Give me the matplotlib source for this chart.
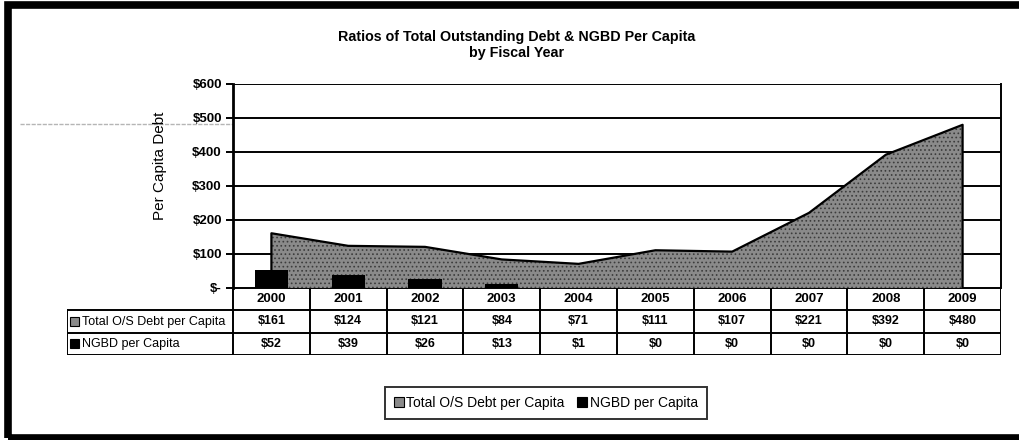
import matplotlib
matplotlib.use("Agg")
import matplotlib.pyplot as plt
from matplotlib.patches import Patch, Rectangle
from matplotlib.lines import Line2D

plt.rcParams['font.family'] = ['Liberation Sans', 'DejaVu Sans']
plt.rcParams['hatch.linewidth'] = 0.7

years = ["2000", "2001", "2002", "2003", "2004", "2005", "2006", "2007", "2008", "2009"]
total_debt = [161, 124, 121, 84, 71, 111, 107, 221, 392, 480]
ngbd = [52, 39, 26, 13, 1, 0, 0, 0, 0, 0]
yticks = [0, 100, 200, 300, 400, 500, 600]
ytick_labels = ["$-", "$100", "$200", "$300", "$400", "$500", "$600"]
series_names = ["Total O/S Debt per Capita", "NGBD per Capita"]
title = "Ratios of Total Outstanding Debt & NGBD Per Capita\nby Fiscal Year"
ylabel = "Per Capita Debt"

W, H = 1019, 440
fig = plt.figure(figsize=(W / 100, H / 100), dpi=100)
fig.patch.set_facecolor("white")

def fx(px):
    return px / W

def fy(py):
    return 1 - py / H

GRAY = "#8a8a8a"
HATCH_C = "#3c3c3c"

# frame
fig.add_artist(Rectangle((fx(7.5), fy(438)), fx(1030) - fx(7.5), fy(5.5) - fy(438),
                         transform=fig.transFigure, fill=False, edgecolor="black",
                         linewidth=5.5, zorder=0))
# faint scan line
fig.add_artist(Line2D([fx(20), fx(780)], [fy(124), fy(124)], transform=fig.transFigure,
                      color="#b5b5b5", linewidth=1.0, linestyle=(0, (3, 1)), zorder=0))

# main axes
L, R, T, B = 233, 1001, 84, 288
ax = fig.add_axes([fx(L), fy(B), fx(R) - fx(L), fy(T) - fy(B)])
x = list(range(len(years)))
ax.fill_between(x, total_debt, 0, facecolor=GRAY, edgecolor=HATCH_C, hatch="....",
                linewidth=0, zorder=2)
ax.plot([x[0]] + x + [x[-1]], [0] + total_debt + [0], color="black", linewidth=1.6, zorder=3)
ax.bar(x, ngbd, width=0.43, color="black", zorder=4)
ax.set_xlim(-0.5, len(years) - 0.5)
ax.set_ylim(0, 600)
ax.set_yticks(yticks)
ax.set_yticklabels(ytick_labels, fontsize=9.5, fontweight="bold")
ax.set_xticks([])
for yv in yticks:
    ax.axhline(yv, color="black", linewidth=1.4, zorder=1)
for s in ["top", "bottom"]:
    ax.spines[s].set_visible(False)
ax.spines["left"].set_linewidth(2.0)
ax.spines["right"].set_linewidth(1.4)
ax.tick_params(axis="y", length=5, width=1.4, pad=3)
ax.set_ylabel(ylabel, fontsize=11)
ax.yaxis.set_label_coords(-(233 - 167) / (R - L), (288 - 166) / (288 - 84))

fig.text(fx(517), fy(45), title, ha="center", va="center", fontsize=10.3,
         fontweight="bold", linespacing=1.2)

# table
TL = 67
unit = (R - L) / len(years)
tax = fig.add_axes([fx(TL), fy(355), fx(R) - fx(TL), fy(288) - fy(355)])
x0 = -0.5 - (L - TL) / unit
tax.set_xlim(x0, len(years) - 0.5)
tax.set_ylim(0, 3)
tax.axis("off")
lw = 1.4
tax.plot([-0.5, len(years) - 0.5], [3, 3], color="black", lw=lw)
tax.plot([x0, len(years) - 0.5], [2, 2], color="black", lw=lw)
tax.plot([x0, len(years) - 0.5], [1, 1], color="black", lw=lw)
tax.plot([x0, len(years) - 0.5], [0, 0], color="black", lw=lw)
tax.plot([x0, x0], [0, 2], color="black", lw=lw)
for i in range(len(years) + 1):
    tax.plot([i - 0.5, i - 0.5], [0, 3], color="black", lw=lw)
for i, yr in enumerate(years):
    tax.text(i, 2.5, yr, ha="center", va="center", fontsize=9.5, fontweight="bold")
    tax.text(i, 1.5, f"${total_debt[i]}", ha="center", va="center", fontsize=9, fontweight="bold")
    tax.text(i, 0.5, f"${ngbd[i]}", ha="center", va="center", fontsize=9, fontweight="bold")
ku = 9.5 / unit
kx = x0 + 3 / unit
tax.add_patch(Rectangle((kx, 1.3), ku, 0.42, facecolor=GRAY, edgecolor="black", lw=0.8))
tax.add_patch(Rectangle((kx, 0.3), ku, 0.42, facecolor="black", edgecolor="black", lw=0.8))
tax.text(kx + ku + 3 / unit, 1.5, series_names[0], ha="left", va="center", fontsize=9)
tax.text(kx + ku + 3 / unit, 0.5, series_names[1], ha="left", va="center", fontsize=9)

# legend
handles = [Patch(facecolor=GRAY, edgecolor="black", linewidth=0.8),
           Patch(facecolor="black", edgecolor="black", linewidth=0.8)]
leg = fig.legend(handles, series_names, loc="center", bbox_to_anchor=(fx(546), fy(403)),
                 ncol=2, frameon=True, fancybox=False, fontsize=10, handlelength=0.7,
                 handleheight=0.7, handletextpad=0.2, columnspacing=0.9, borderpad=0.65,
                 borderaxespad=0)
leg.get_frame().set_edgecolor("black")
leg.get_frame().set_linewidth(1.4)

fig.savefig("out.png", dpi=100, facecolor="white")
